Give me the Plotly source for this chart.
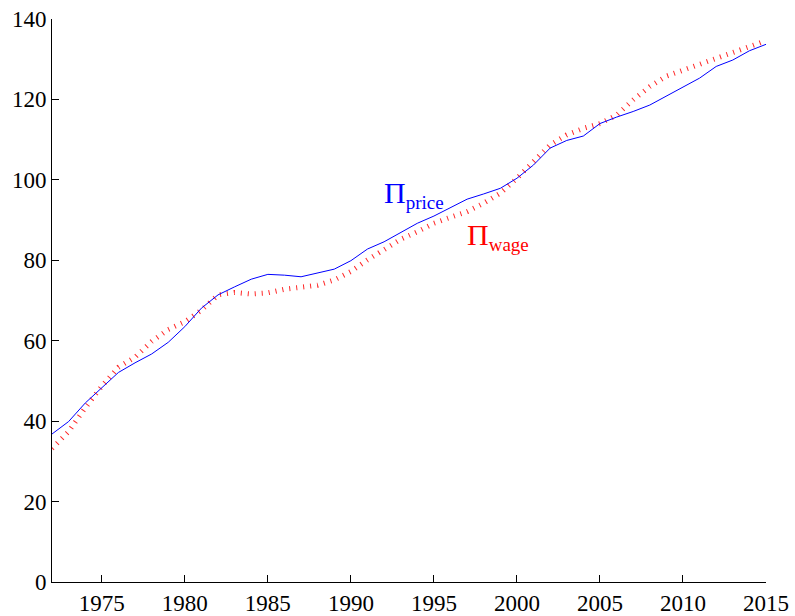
import plotly.graph_objects as go

years = list(range(1972, 2016))
pi_price = [36.8, 39.9, 44.5, 48.4, 52.1, 54.5, 56.7, 59.6, 63.5, 68.1,
            71.4, 73.4, 75.3, 76.5, 76.3, 75.9, 76.9, 77.8, 79.9, 82.8,
            84.6, 86.9, 89.2, 91.0, 93.2, 95.2, 96.5, 97.9, 100.4, 103.7,
            107.9, 109.8, 110.9, 114.0, 115.6, 117.0, 118.6, 120.9, 123.2, 125.3,
            128.2, 129.8, 132.1, 133.7]
pi_wage = [33.2, 37.4, 43.3, 48.7, 53.4, 55.9, 59.8, 62.8, 64.7, 67.6,
           71.4, 72.0, 71.6, 71.9, 72.8, 73.4, 73.8, 75.1, 77.2, 80.1,
           82.6, 85.2, 87.1, 89.2, 90.7, 92.1, 94.2, 96.7, 100.4, 104.5,
           108.7, 111.2, 112.8, 114.0, 116.1, 119.9, 123.2, 125.8, 127.3, 128.8,
           130.2, 131.9, 133.3, 134.6]
x_ticks = [1975, 1980, 1985, 1990, 1995, 2000, 2005, 2010, 2015]
y_ticks = [0, 20, 40, 60, 80, 100, 120, 140]

font_family = "Liberation Serif, Times New Roman, serif"

fig = go.Figure()
fig.add_trace(go.Scatter(x=years, y=pi_wage, mode="lines", name="wage",
                         line=dict(color="rgba(255,0,0,0.85)", width=5, dash="1px,6px")))
fig.add_trace(go.Scatter(x=years, y=pi_price, mode="lines", name="price",
                         line=dict(color="#0000ff", width=1)))

fig.add_annotation(x=1991.9, y=96.4,
                   text="Π<sub><span style='font-size:19px'>price</span></sub>",
                   showarrow=False, xanchor="left", yanchor="middle",
                   font=dict(family=font_family, size=30, color="#0000ff"))
fig.add_annotation(x=1996.9, y=86.0,
                   text="Π<sub><span style='font-size:19px'>wage</span></sub>",
                   showarrow=False, xanchor="left", yanchor="middle",
                   font=dict(family=font_family, size=30, color="#ff0000"))

axis_common = dict(showgrid=False, zeroline=False, showline=True, linecolor="black",
                   linewidth=1, ticks="inside", ticklen=7, tickcolor="black",
                   automargin=False,
                   tickfont=dict(family=font_family, size=23, color="black"))
fig.update_xaxes(range=[1972, 2015], tickvals=x_ticks,
                 ticktext=[str(v) for v in x_ticks], **axis_common)
fig.update_yaxes(range=[0, 140], tickvals=y_ticks,
                 ticktext=[str(v) for v in y_ticks], **axis_common)

fig.update_layout(width=795, height=616, showlegend=False,
                  plot_bgcolor="white", paper_bgcolor="white",
                  margin=dict(l=52, r=29, t=19, b=34))

fig.write_html("out.html", config={"displayModeBar": False},
               post_script="document.body.style.margin='0';document.body.style.overflow='hidden';")
